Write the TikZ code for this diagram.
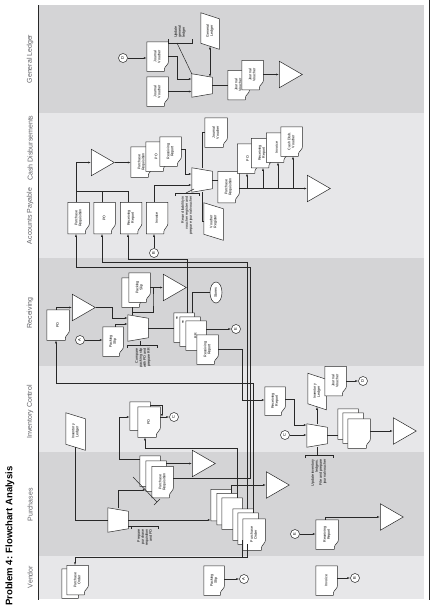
\documentclass[tikz,border=0pt]{standalone}
\usepackage{fontspec}
\setmainfont{Liberation Sans}
\usepackage{graphicx}
\usetikzlibrary{arrows.meta,shapes.geometric}

\makeatletter
% document: wavy right edge (the page is turned)
\pgfdeclareshape{docshape}{
  \inheritsavedanchors[from=rectangle]
  \inheritanchorborder[from=rectangle]
  \inheritanchor[from=rectangle]{center}
  \inheritanchor[from=rectangle]{north}
  \inheritanchor[from=rectangle]{south}
  \inheritanchor[from=rectangle]{east}
  \inheritanchor[from=rectangle]{west}
  \inheritanchor[from=rectangle]{north east}
  \inheritanchor[from=rectangle]{north west}
  \inheritanchor[from=rectangle]{south east}
  \inheritanchor[from=rectangle]{south west}
  \backgroundpath{%
    \southwest \edef\docxa{\the\pgf@x}\edef\docya{\the\pgf@y}%
    \northeast \edef\docxb{\the\pgf@x}\edef\docyb{\the\pgf@y}%
    \pgfmathsetmacro\doch{\docyb-(\docya)}%
    \pgfpathmoveto{\pgfpoint{\docxa}{\docya}}%
    \pgfpathlineto{\pgfpoint{\docxa}{\docyb}}%
    \pgfpathlineto{\pgfpoint{\docxb}{\docyb}}%
    \pgfpathlineto{\pgfpoint{\docxb}{\docya+0.4*\doch}}%
    \pgfpathcurveto{\pgfpoint{\docxb+1pt}{\docya+0.15*\doch}}%
      {\pgfpoint{\docxb-4pt}{\docya+0.25*\doch}}{\pgfpoint{\docxb-4pt}{\docya}}%
    \pgfpathclose}
}
% ledger
\pgfdeclareshape{ledgershape}{
  \inheritsavedanchors[from=rectangle]
  \inheritanchorborder[from=rectangle]
  \inheritanchor[from=rectangle]{center}
  \inheritanchor[from=rectangle]{north}
  \inheritanchor[from=rectangle]{south}
  \inheritanchor[from=rectangle]{east}
  \inheritanchor[from=rectangle]{west}
  \backgroundpath{%
    \southwest \edef\docxa{\the\pgf@x}\edef\docya{\the\pgf@y}%
    \northeast \edef\docxb{\the\pgf@x}\edef\docyb{\the\pgf@y}%
    \pgfpathmoveto{\pgfpoint{\docxa}{\docyb}}%
    \pgfpathlineto{\pgfpoint{\docxb}{\docyb-6pt}}%
    \pgfpathlineto{\pgfpoint{\docxb}{\docya}}%
    \pgfpathlineto{\pgfpoint{\docxa}{\docya+6pt}}%
    \pgfpathclose}
}
% manual operation
\pgfdeclareshape{manopshape}{
  \inheritsavedanchors[from=rectangle]
  \inheritanchorborder[from=rectangle]
  \inheritanchor[from=rectangle]{center}
  \inheritanchor[from=rectangle]{north}
  \inheritanchor[from=rectangle]{south}
  \inheritanchor[from=rectangle]{east}
  \inheritanchor[from=rectangle]{west}
  \inheritanchor[from=rectangle]{north west}
  \backgroundpath{%
    \southwest \edef\docxa{\the\pgf@x}\edef\docya{\the\pgf@y}%
    \northeast \edef\docxb{\the\pgf@x}\edef\docyb{\the\pgf@y}%
    \pgfpathmoveto{\pgfpoint{\docxa}{\docyb}}%
    \pgfpathlineto{\pgfpoint{\docxa}{\docya}}%
    \pgfpathlineto{\pgfpoint{\docxb}{\docya+3.5pt}}%
    \pgfpathlineto{\pgfpoint{\docxb}{\docyb-3.5pt}}%
    \pgfpathclose}
}
\makeatother

\definecolor{lanedark}{RGB}{212,212,214}
\definecolor{lanelight}{RGB}{231,231,233}
\definecolor{ink}{RGB}{40,40,40}
\definecolor{labelgray}{RGB}{95,95,100}

\newcommand{\vt}[1]{\rotatebox{90}{\begin{tabular}{@{}c@{}}#1\end{tabular}}}
\newcommand{\vtr}[1]{\rotatebox{90}{\begin{tabular}{@{}r@{}}#1\end{tabular}}}
\newcommand{\vtl}[1]{\rotatebox{90}{\begin{tabular}{@{}l@{}}#1\end{tabular}}}

\tikzset{
  doc/.style={shape=docshape, draw=ink, fill=white, inner sep=0pt, minimum width=21pt, minimum height=29pt, font=\fontsize{3.6}{4}\selectfont},
  ledger/.style={shape=ledgershape, draw=ink, fill=white, inner sep=0pt, minimum width=18pt, minimum height=36pt, font=\fontsize{3.6}{4}\selectfont},
  manop/.style={shape=manopshape, draw=ink, fill=white, inner sep=0pt, minimum width=20pt, minimum height=24pt},
  file/.style={isosceles triangle, isosceles triangle apex angle=60, draw=ink, fill=white, minimum height=23pt, inner sep=0pt, anchor=west},
  conn/.style={circle, draw=ink, fill=white, minimum size=9pt, inner sep=0pt, font=\fontsize{4}{4}\selectfont},
  term/.style={ellipse, draw=ink, fill=white, minimum width=12pt, minimum height=21pt, inner sep=0pt, font=\fontsize{3.6}{4}\selectfont},
  note/.style={inner sep=0pt, font=\fontsize{3.6}{4}\selectfont},
  tag/.style={inner sep=0pt, font=\fontsize{2.5}{3}\selectfont},
  lane/.style={rotate=90, inner sep=0pt, font=\fontsize{7}{7}\selectfont, text=labelgray},
  flow/.style={draw=ink, line width=.5pt, ->},
  line/.style={draw=ink, line width=.5pt},
}

\begin{document}
\begin{tikzpicture}[x=1pt, y=-1pt, >={Latex[length=3pt,width=2pt]}, line width=.5pt]
	\useasboundingbox (0,0) rectangle (440,608);
	%lanes
	\foreach \ya/\yb/\c in {5/113/lanedark, 113/258/lanelight, 258/366/lanedark, 366/452/lanelight, 452/556/lanedark, 556/599/lanelight}
	\fill[\c] (39,\ya) rectangle (424,\yb);
	\draw[ink] (38,5) -- (38,600);
	\draw[ink] (429,0) -- (429,600);
	%labels
	\node[rotate=90, anchor=west, inner sep=0pt, font=\bfseries\fontsize{9.5}{10}\selectfont] (title) at (10,606) {Problem 4: Flowchart Analysis};
	\foreach \t/\y in {General Ledger/59, Cash Disbursements/148, Accounts Payable/216, Receiving/313, Inventory Control/412, Purchases/505, Vendor/577}
	\node[lane] (lane\y) at (30,\y) {\t};
	
	%general ledger
	\node[conn] (glD) at (123,58) {\vt{D}};
	\node[doc] (gljv1) at (157.5,56.5) {\vt{Journal\\Voucher}};
	\node[doc] (gljv2) at (157.5,91.5) {\vt{Journal\\Voucher}};
	\node[manop, minimum height=23pt] (gltrap) at (202,85.5) {};
	\node[ledger] (glgl) at (210,31) {\vt{General\\Ledger}};
	\node[note, anchor=south] (glnote) at (180,38) {\vtl{Update\\general\\ledger}};
	\node[doc] (gljv3) at (238.5,85) {\vt{Journal\\Voucher}};
	\node[doc] (gljv4) at (252.5,75) {\vt{Journal\\Voucher}};
	\node[file] (glfile) at (279,74.5) {};
	
	\draw[flow] (glD) -- (glD -| gljv1.west);
	\draw[flow] (gljv1.east) -- (177,56.5) |- (gltrap.west |- 0,79);
	\draw[flow] (gljv2.east) -- (gltrap.west |- gljv2.east);
	\draw[line] (168,39) -- (168,43) -- (192,43) -- (192,39);
	\draw[line] (177,43) -- (gltrap.north west);
	\draw[line, <->] ([yshift=3pt]glgl.south) -- (210,77);
	\draw[line] (gltrap.east) -- (gltrap.east -| gljv3.west);
	\draw[flow] (gljv4.east |- glfile.west) -- (glfile.west);
	
	%accounts payable and cash disbursements
	\node[doc, minimum height=31pt] (appr) at (78.5,218) {\vt{Purchase\\Requisition}};
	\node[doc, minimum height=31pt] (appo) at (104.5,218) {\vt{PO}};
	\node[doc, minimum height=31pt] (aprr) at (131,218) {\vt{Receiving\\Report}};
	\node[doc, minimum height=31pt] (apinv) at (157,218) {\vt{Invoice}};
	\node[conn] (apB) at (154,253) {\vt{B}};
	\node[file] (cdfile1) at (91,162.5) {};
	\node[doc, minimum height=30pt] (cdpr) at (141.5,162) {\vt{Purchase\\Requisition}};
	\node[doc] (cdpo) at (156.5,156.5) {\vt{PO}};
	\node[doc] (cdrr) at (170.5,151.5) {\vt{Receiving\\Report}};
	\node[manop] (cdtrap) at (202,180) {};
	\node[note, anchor=north] (cdnote) at (187,196) {\vtr{Record liability in\\voucher register and\\prepare journal voucher}};
	\node[doc, minimum width=22pt] (cdjv) at (216,132.5) {\vt{Journal\\Voucher}};
	\node[ledger, minimum width=19pt, minimum height=37pt] (cdvr) at (213.5,221.5) {\vt{Voucher\\Register}};
	\node[doc, minimum height=31pt] (cdpr2) at (228.5,187) {\vt{Purchase\\Requisition}};
	\node[doc] (cdpo2) at (248,158.5) {\vt{PO}};
	\node[doc] (cdrr2) at (262,153) {\vt{Receiving\\Report}};
	\node[doc] (cdinv) at (277,147.5) {\vt{Invoice}};
	\node[doc] (cdcdv) at (291.5,141.5) {\vt{Cash Disb.\\Voucher}};
	\node[file] (cdfile2) at (307,188.5) {};
	
	\draw[flow] (appr.north -| 76,0) |- (cdfile1.west);
	\draw[line] (appo.north -| 102,0) -- (102,191);
	\draw[line] (aprr.north -| 128,0) |- (76,191);
	\draw[flow] (cdfile1.east) -- (cdfile1.east -| cdpr.west);
	\draw[flow] (cdrr.east |- 0,149) -- (185,149) |- (cdtrap.west |- 0,174);
	\draw[flow] (apinv.north -| 154,0) |- (cdtrap.west |- 0,185);
	\draw[flow] (apB) -- (apB |- apinv.south);
	\draw[line] (175,196) -- (175,193) -- (199,193) -- (199,196);
	\draw[line] (186,193) -- (194,189);
	\draw[line] (cdtrap.north) |- (cdjv.west);
	\draw[line] (cdtrap.south) |- (cdvr.west);
	\draw[line] (cdtrap.east) -- (cdtrap.east -| cdpr2.west);
	\draw[flow] (cdpr2.east |- cdfile2.west) -- (cdfile2.west);
	\foreach \d/\x in {cdpo2/247, cdrr2/263, cdinv/278, cdcdv/293}
	\draw[flow] (\x,188.5) -- (\d.south -| \x,0);
	
	%receiving
	\node[doc, minimum width=22pt, minimum height=30pt] (recpo) at (58,325) {\vt{PO}};
	\node[file] (recfile1) at (72,307.5) {};
	\node[manop, minimum height=26pt] (rectrap) at (138,328) {};
	\node[conn] (recA) at (80,340) {\vt{A}};
	\node[doc, minimum width=20pt] (recps) at (113,341.5) {\vt{Packing\\Slip}};
	\node[doc] (recpo2) at (132.5,292.5) {\vt{PO}};
	\node[doc] (recps2) at (139.5,287.5) {\vt{Packing\\Slip}};
	\node[file] (recfile2) at (163,287.5) {};
	\node[note, anchor=north] (recnote) at (143,348) {\vtr{Compare\\packing slip\\with PO and\\prepare RR}};
	\node[doc, minimum width=20pt] (recrr1) at (184,327.5) {};
	\node[doc, minimum width=20pt] (recrr2) at (190,331.5) {};
	\node[doc, minimum width=20pt] (recrr3) at (196,335.5) {\vt{RR}};
	\node[doc, minimum width=21pt] (recrr4) at (207.5,349.5) {\vt{Receiving\\Report}};
	\node[tag] (recrr1t) at (177,318) {\rotatebox{90}{RR}};
	\node[tag] (recrr2t) at (183,322) {\rotatebox{90}{RR}};
	\node[term] (recst) at (216,292.5) {\vt{Stores}};
	\node[conn] (recE) at (236,329) {\vt{E}};
	
	\draw[flow] (recpo.north -| 56,0) |- (recfile1.west);
	\draw[flow] (recfile1.east) -| (112,318) -- (rectrap.west |- 0,318);
	\draw[flow] (recA) -- (recA -| recps.west);
	\draw[flow] (recps.north -| 115,0) |- (rectrap.west |- 0,324);
	\draw[flow] (rectrap.north -| 132,0) -- (132,312) -| (153,300) |- (recfile2.west);
	\draw[line] (132,312) -- (recpo2.south -| 132,0);
	\draw[line] (recps2.east) -- (153,287.5);
	\draw[line] (rectrap.south -| 140,0) -- (140,345);
	\draw[line] (127,348) -- (127,345) -- (157,345) -- (157,348);
	\draw[line] (rectrap.east) -- (rectrap.east -| recrr1.west);
	\draw[line] (recrr1.north -| 192,0) |- (recst.west);
	\draw[flow] (recrr3.east |- recE) -- (recE);
	\draw[flow] (recrr1.north -| 187,0) |- (128,259) -- (aprr.south -| 128,0);
	
	%inventory control
	\node[ledger, minimum width=19pt, minimum height=37pt] (icil) at (75.5,431.5) {\vt{Inventory\\Ledger}};
	\node[doc, minimum width=20pt, minimum height=28pt] (icpr) at (140,416) {\vt{PR}};
	\node[doc, minimum width=22pt, minimum height=30pt] (icpo) at (149,422) {\vt{PO}};
	\node[conn] (icC1) at (174,417) {\vt{C}};
	\node[doc, minimum width=20pt, minimum height=28pt] (icrr) at (275,401) {\vt{Receiving\\Report}};
	\node[conn] (icC2) at (285,435) {\vt{C}};
	\node[manop, minimum height=23pt] (ictrap) at (317,435.5) {};
	\node[ledger] (icil2) at (317,391.5) {\vt{Inventory\\Ledger}};
	\node[doc] (icjv) at (335.5,381) {\vt{Journal\\Voucher}};
	\node[conn] (icD) at (363,381) {\vt{D}};
	\node[note, anchor=north] (icnote) at (319,459) {\vtr{Update inventory\\ledgers.\\File and prepare\\journal voucher}};
	\node[doc, minimum width=20pt, minimum height=30pt] (icf1) at (348,424) {};
	\node[doc, minimum width=20pt, minimum height=30pt] (icf2) at (353,428) {};
	\node[doc, minimum width=22pt, minimum height=29pt] (icf3) at (359,433.5) {};
	\node[file] (icfile) at (393,431) {};
	
	\draw[flow] (recrr4.east) -| (242,400) -- (icrr.west |- 0,400);
	\draw[flow] (icpr.east |- 0,405) -| (162,417);
	\draw[flow] (icpo.east |- icC1) -- (icC1);
	\draw[flow] (icrr.east |- 0,399) -| (294,425) -- (ictrap.west |- 0,425);
	\draw[flow] (icC2) -- (icC2 -| ictrap.west);
	\draw[flow] (ictrap.north) -- ([yshift=3pt]icil2.south);
	\draw[flow] (icjv.east) -- (icD);
	\draw[line] (ictrap.south) -- (317,455);
	\draw[line] (305,458) -- (305,455) -- (333,455) -- (333,458);
	\draw[line] (ictrap.east) -- (ictrap.east -| icf1.west);
	\draw[flow] (icf3.east |- icfile.west) -- (icfile.west);
	
	%purchases
	\node[manop] (putrap) at (118,520) {};
	\node[doc, minimum width=20pt, minimum height=30pt] (pupr1) at (150,471) {};
	\node[doc, minimum width=20pt, minimum height=30pt] (pupr2) at (156,476) {};
	\node[doc, minimum height=31pt] (pupr3) at (162.5,482) {\vt{Purchase\\Requisition}};
	\node[file] (pufile1) at (192,463.5) {};
	\node[note, anchor=north] (punote) at (145,529) {\vtr{Prepare\\purchase\\requisition\\and PO}};
	\node[doc, minimum width=20pt, minimum height=31pt] (pupo1) at (221,505) {};
	\node[doc, minimum width=20pt, minimum height=31pt] (pupo2) at (227,509) {};
	\node[doc, minimum width=20pt, minimum height=31pt] (pupo3) at (232,513.5) {};
	\node[doc, minimum width=20pt, minimum height=31pt] (pupo4) at (243,524.5) {};
	\node[doc, minimum width=20pt, minimum height=31pt] (pupo5) at (248,528.5) {};
	\node[doc, minimum width=22pt, minimum height=31pt] (pupo6) at (254,534.5) {\vt{Purchase\\Order}};
	\node[file] (pufile2) at (266,485) {};
	\node[conn] (puE) at (295,534) {\vt{E}};
	\node[doc, minimum width=22pt] (purr) at (327,534.5) {\vt{Receiving\\Report}};
	\node[file] (pufile3) at (380,517) {};
	
	\draw[line] ([yshift=3pt]icil.south) |- (putrap.west |- 0,520);
	\draw[flow] (putrap.north) |- (pupr2.west |- 0,490);
	\draw[line] (133,477) -- (157,502) (154,505) -- (160,499);
	\draw[flow] (pupr1.west |- 0,459) -| (119,417) -- (icpr.west |- 0,417);
	\draw[flow] (pupr2.east |- pufile1.west) -- (pufile1.west);
	\draw[flow] (pupr3.east |- 0,478) -| (250,267) -| (appr.south -| 76,0);
	\draw[flow] (putrap.east) -- (putrap.east -| pupo1.west);
	\draw[line] (128,526) -- (131,526);
	\draw[line] (131,529) -- (131,526) -- (158,526) -- (158,529);
	\draw[flow] (pupo3.north -| 237,0) |- (145,448) -- (icpo.south -| 145,0);
	\draw[flow] (pupo4.north -| 247,0) |- (102,262) -- (appo.south -| 102,0);
	\draw[flow] (pupo5.north -| 253,0) |- (56,383) -- (recpo.south -| 56,0);
	\draw[flow] (pupo2.north -| 231,0) |- (pufile2.west);
	\draw[flow] (puE) -- (puE -| purr.west);
	\draw[flow] (purr.north -| 325,0) |- (pufile3.west);
	
	%vendor
	\node[doc, minimum width=20pt] (vepo1) at (72,583.5) {};
	\node[doc] (vepo2) at (77.5,580) {\vt{Purchase\\Order}};
	\node[doc, minimum width=20pt] (veps) at (214,580.5) {\vt{Packing\\Slip}};
	\node[conn] (veA) at (244,579) {\vt{A}};
	\node[doc] (veinv) at (326.5,580.5) {\vt{Invoice}};
	\node[conn] (veB) at (355,578) {\vt{B}};
	
	\draw[flow] (pupo5.south -| 247,0) |- (75,557) -- (vepo2.north -| 75,0);
	\draw[line] (pupo4.south -| 242,0) -- (242,557);
	\draw[flow] (veps.east |- veA) -- (veA);
	\draw[flow] (veinv.east |- veB) -- (veB);
\end{tikzpicture}
\end{document}
